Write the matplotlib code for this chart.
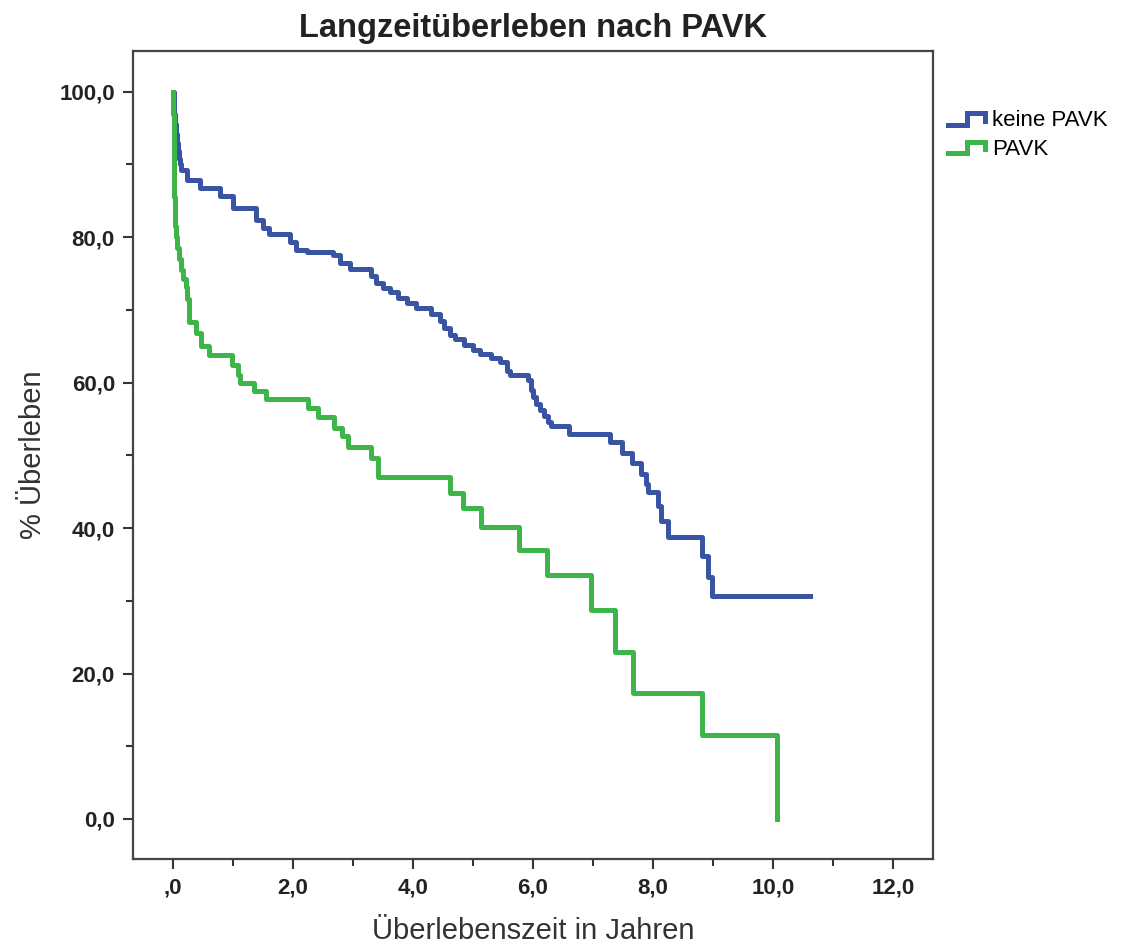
import matplotlib
matplotlib.use("Agg")
import matplotlib.pyplot as plt
from matplotlib.legend_handler import HandlerBase
from matplotlib.lines import Line2D

# Kaplan-Meier steps (time in years, survival in %)
keine_t = [0, 0.01, 0.02, 0.03, 0.045, 0.06, 0.08, 0.1, 0.12, 0.14, 0.23, 0.45, 0.78, 1.0,
           1.39, 1.5, 1.6, 1.95, 2.05, 2.23, 2.67, 2.78, 2.95, 3.3, 3.38, 3.5, 3.62, 3.75,
           3.9, 4.05, 4.3, 4.45, 4.52, 4.62, 4.7, 4.85, 5.0, 5.12, 5.3, 5.45, 5.56, 5.62,
           5.92, 5.96, 6.0, 6.05, 6.12, 6.18, 6.25, 6.3, 6.6, 7.28, 7.48, 7.65, 7.8, 7.88,
           7.92, 8.08, 8.14, 8.25, 8.82, 8.92, 8.98, 10.62]
keine_s = [100, 98.5, 97, 95.5, 94.2, 93, 91.8, 90.8, 90.0, 89.3, 87.9, 86.7, 85.6, 84.0,
           82.4, 81.2, 80.5, 79.3, 78.3, 78.0, 77.6, 76.4, 75.6, 74.6, 73.7, 73.0, 72.4, 71.6,
           71.0, 70.2, 69.5, 68.5, 67.5, 66.6, 66.0, 65.2, 64.5, 64.0, 63.4, 62.8, 61.6, 61.1,
           60.3, 59.0, 58.0, 57.0, 56.2, 55.4, 54.6, 54.0, 53.0, 51.9, 50.3, 48.9, 47.5, 46.0,
           45.0, 43.0, 41.0, 38.8, 36.1, 33.3, 30.6, 30.6]

pavk_t = [0, 0.005, 0.01, 0.015, 0.02, 0.025, 0.03, 0.04, 0.05, 0.07, 0.1, 0.13, 0.17, 0.21,
          0.24, 0.26, 0.39, 0.47, 0.6, 0.98, 1.08, 1.12, 1.35, 1.55, 2.25, 2.42, 2.68, 2.82,
          2.92, 3.3, 3.42, 4.62, 4.84, 5.14, 5.76, 6.23, 6.97, 7.37, 7.67, 8.81, 10.06]
pavk_s = [100, 97, 94, 91, 88, 85.5, 83, 81.5, 80, 78.5, 77, 75.5, 74.3, 73.2,
          71.5, 68.4, 66.8, 65.0, 63.8, 62.4, 61.0, 60.0, 58.8, 57.8, 56.5, 55.3, 53.8, 52.6,
          51.1, 49.6, 47.0, 44.8, 42.7, 40.2, 37.0, 33.6, 28.7, 23.0, 17.3, 11.6, 0.0]

x_ticks = [0, 2, 4, 6, 8, 10, 12]
x_labels = [",0", "2,0", "4,0", "6,0", "8,0", "10,0", "12,0"]
y_ticks = [0, 20, 40, 60, 80, 100]
y_labels = ["0,0", "20,0", "40,0", "60,0", "80,0", "100,0"]

BLUE = "#3a54a4"
GREEN = "#3db54a"
FONT = "Liberation Sans"


class StepHandler(HandlerBase):
    def create_artists(self, legend, orig_handle, xdescent, ydescent, width, height, fontsize, trans):
        x0, h = -xdescent, height
        xs = [x0, x0 + 0.5 * width, x0 + 0.5 * width, x0 + width, x0 + width]
        ys = [0.1 * h, 0.1 * h, 0.85 * h, 0.85 * h, 0.35 * h]
        ln = Line2D(xs, ys, color=orig_handle.get_color(), lw=orig_handle.get_linewidth(),
                    solid_joinstyle="miter", transform=trans)
        return [ln]


fig = plt.figure(figsize=(11.23, 9.46), dpi=100)
ax = fig.add_axes([0.1184, 0.0920, 0.7124, 0.8541])

l1, = ax.step(keine_t, keine_s, where="post", color=BLUE, lw=3.6, label="keine PAVK")
l2, = ax.step(pavk_t, pavk_s, where="post", color=GREEN, lw=3.6, label="PAVK")

ax.set_xlim(-0.667, 12.667)
ax.set_ylim(-5.5, 105.6)
ax.set_xticks(x_ticks)
ax.set_xticklabels(x_labels)
ax.set_xticks(range(0, 13), minor=True)
ax.set_yticks(y_ticks)
ax.set_yticklabels(y_labels)
ax.set_yticks(range(0, 101, 10), minor=True)
ax.tick_params(which="both", direction="out", color="#333333", width=1.5)
ax.tick_params(which="major", length=7, pad=6)
ax.tick_params(which="minor", length=5)
for lab in ax.get_xticklabels() + ax.get_yticklabels():
    lab.set_family(FONT)
    lab.set_fontweight("bold")
    lab.set_fontsize(16)
    lab.set_color("#222222")

for s in ax.spines.values():
    s.set_color("#444444")
    s.set_linewidth(1.6)

ax.set_title("Langzeitüberleben nach PAVK", fontsize=23.5, fontweight="bold",
             family=FONT, color="#222222", pad=10)
ax.set_xlabel("Überlebenszeit in Jahren", fontsize=21, family=FONT, color="#333333", labelpad=14)
ax.set_ylabel("% Überleben", fontsize=21, family=FONT, color="#333333", labelpad=9)

fig.legend([l1, l2], ["keine PAVK", "PAVK"], loc="upper left", bbox_to_anchor=(0.836, 0.893),
           frameon=False, handler_map={Line2D: StepHandler()}, handlelength=1.7, handletextpad=0.3,
           labelspacing=0.35, borderaxespad=0, prop={"family": FONT, "size": 16})

fig.savefig("out.png", dpi=100, facecolor="white")
